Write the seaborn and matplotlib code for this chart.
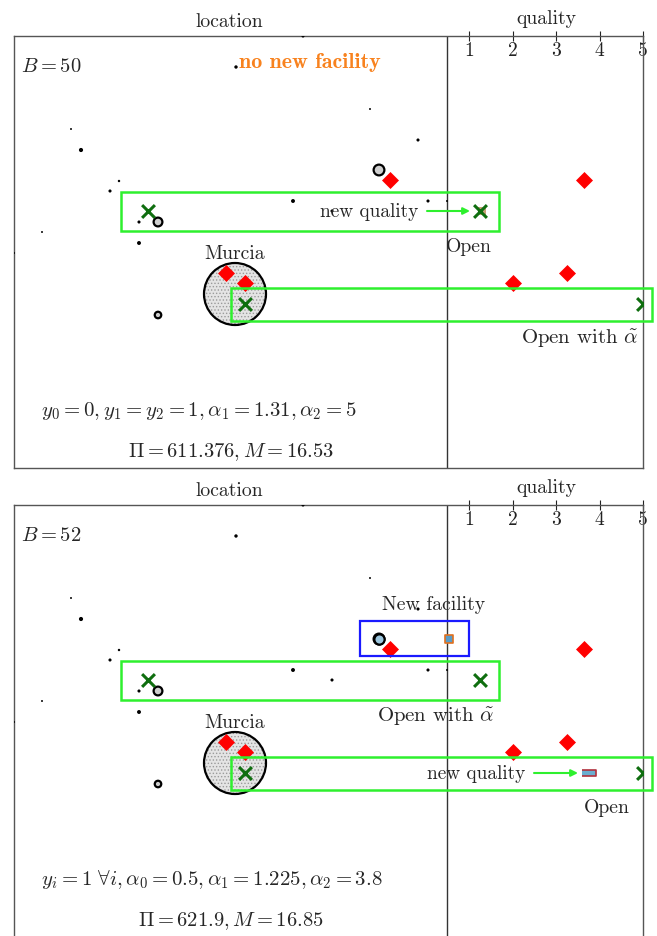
import numpy as np
import seaborn as sns
import matplotlib.pyplot as plt
from matplotlib.patches import Circle, Rectangle

# --- location points (map coords in px, y measured down from the frame top)
dot_x = [303, 236, 71, 81, 119, 110, 293, 139, 42, 370, 418, 428, 447, 139, 14, 332]
dot_y = [0, 31, 93, 114, 145, 155, 165, 186, 196, 73, 104, 165, 165, 207, 217, 175]
dot_s = [5, 6, 2, 9, 3, 5, 8, 5, 2, 2, 5, 5, 2, 8, 2, 5]

# demand points drawn as open circles
circ_x = [379, 158, 158]
circ_y = [134, 186, 279]
circ_s = [60, 40, 22]

# existing facilities: location and quality
fac_x = [390, 226, 245]
fac_y = [144, 237, 247]
fac_q = [3.65, 3.25, 2.0]

# candidate facilities (green crosses): location and old quality
cand_x = [148, 245]
cand_y = [175, 268]
cand_q = [1.25, 5.0]

# Murcia region
murcia_x, murcia_y, murcia_r = 235, 258, 31

quality_ticks = [1, 2, 3, 4, 5]

# per panel values
budget = [50, 52]
param_text = [r'$y_0 = 0, y_1 = y_2 = 1, \alpha_1 = 1.31, \alpha_2 = 5$',
              r'$y_i = 1\ \forall i, \alpha_0 = 0.5, \alpha_1 = 1.225, \alpha_2 = 3.8$']
profit = ['611.376', '621.9']
market = ['16.53', '16.85']
new_q_row = [0, 1]
new_q_val = [1.31, 3.75]
new_fac_q = 0.5


def q_to_px(q):
    return 469 + (np.asarray(q, dtype=float) - 1) * 43.5


def px_to_q(px):
    return 1 + (np.asarray(px, dtype=float) - 469) / 43.5


sns.set_theme(style='white')
plt.rcParams['font.family'] = ['cmr10']
plt.rcParams['mathtext.fontset'] = 'cm'
plt.rcParams['axes.formatter.use_mathtext'] = True
plt.rcParams['hatch.linewidth'] = 0.6

LIME = '#2ef02e'
DGREEN = '#0f6e0f'
FS = 14.2
MFS = 14.8

W, H = 657, 937
fig = plt.figure(figsize=(W / 100, H / 100), dpi=100)

for p, top in enumerate([37, 506]):
    ax = fig.add_axes([14 / W, 1 - (top + 432) / H, 629 / W, 432 / H])
    ax.set_xlim(14, 643)
    ax.set_ylim(432, 0)
    ax.set_xticks([])
    ax.set_yticks([])
    for sp in ax.spines.values():
        sp.set_color('#555555')
        sp.set_linewidth(1.0)
    ax.axvline(q_to_px(new_fac_q), color='#333333', lw=1.0)

    sec = ax.secondary_xaxis('top', functions=(px_to_q, q_to_px))
    sec.set_xticks(quality_ticks)
    sec.set_xticklabels([str(t) for t in quality_ticks])
    sec.tick_params(direction='inout', length=7, width=0.8, pad=-20,
                    labelsize=14, colors='#222222')
    sec.spines['top'].set_visible(False)

    ax.text(229, -15, 'location', ha='center', va='center', fontsize=FS)
    ax.text(546, -18, 'quality', ha='center', va='center', fontsize=FS)

    # Murcia
    ax.add_patch(Circle((murcia_x, murcia_y), murcia_r, facecolor='#e4e4e4',
                        edgecolor='#9a9a9a', hatch='.....', lw=0, zorder=1))
    ax.add_patch(Circle((murcia_x, murcia_y), murcia_r, fill=False,
                        edgecolor='black', lw=1.6, zorder=2))
    ax.text(murcia_x, murcia_y - 41, 'Murcia', ha='center', va='center', fontsize=FS)

    sns.scatterplot(x=dot_x, y=dot_y, s=dot_s, color='black', linewidth=0,
                    ax=ax, legend=False, zorder=3)
    sns.scatterplot(x=circ_x, y=circ_y, s=circ_s, color='#cfcfcf',
                    edgecolor='black', linewidth=1.6, ax=ax, legend=False, zorder=3)

    fx = list(fac_x) + list(q_to_px(fac_q))
    fy = list(fac_y) * 2
    sns.scatterplot(x=fx, y=fy, marker='D', s=75, color='red', linewidth=0,
                    ax=ax, legend=False, zorder=4)

    # new quality marker for a candidate
    r = new_q_row[p]
    if p == 0:
        sns.scatterplot(x=[q_to_px(new_q_val[p])], y=[cand_y[r]], marker='s', s=30,
                        color='#c9a27a', linewidth=0, ax=ax, legend=False, zorder=4)
    else:
        rect_m = [(-1, -0.5), (1, -0.5), (1, 0.5), (-1, 0.5)]
        sns.scatterplot(x=[q_to_px(new_q_val[p])], y=[cand_y[r]], marker=rect_m, s=90,
                        color='#6aaed0', edgecolor='#b0303c', linewidth=1.2,
                        ax=ax, legend=False, zorder=4)

    cx = list(cand_x) + list(q_to_px(cand_q))
    cy = list(cand_y) * 2
    sns.scatterplot(x=cx, y=cy, marker='x', s=85, color=DGREEN, linewidth=2.2,
                    ax=ax, legend=False, zorder=5)

    # green boxes around candidates
    box_left = [121, 231]
    box_right = [499, 652]
    box_half = [19.5, 16.5]
    for k in range(2):
        ax.add_patch(Rectangle((box_left[k], cand_y[k] - box_half[k] + 0.5),
                               box_right[k] - box_left[k], 2 * box_half[k],
                               fill=False, edgecolor=LIME, lw=1.8, zorder=6,
                               clip_on=False))

    # arrow "new quality"
    ay = cand_y[r]
    if p == 0:
        tx, a0, a1 = 418, 427, 470
    else:
        tx, a0, a1 = 525, 534, 578
    ax.text(tx, ay, 'new quality', ha='right', va='center', fontsize=FS - 0.3, zorder=7)
    ax.annotate('', xy=(a1, ay), xytext=(a0, ay),
                arrowprops=dict(arrowstyle='-|>', color=LIME, lw=1.5,
                                mutation_scale=10, shrinkA=0, shrinkB=0), zorder=7)

    if p == 0:
        ax.text(469, 210, 'Open', ha='center', va='center', fontsize=FS)
        ax.text(580, 302, r'Open with $\tilde{\alpha}$', ha='center', va='center',
                fontsize=FS + 0.8)
        ax.text(239, 26, 'no new facility', ha='left', va='center', fontsize=15.8,
                color='#f8821e', family='cmb10')
    else:
        ax.text(436, 211, r'Open with $\tilde{\alpha}$', ha='center', va='center',
                fontsize=FS + 0.8)
        ax.text(607, 302, 'Open', ha='center', va='center', fontsize=FS)
        # new facility
        ax.add_patch(Rectangle((360, 116), 109, 35, fill=False, edgecolor='#1a1aff',
                               lw=1.6, zorder=6))
        ax.text(434, 99, 'New facility', ha='center', va='center', fontsize=FS)
        sns.scatterplot(x=[circ_x[0]], y=[circ_y[0]], s=55, color='#9cc6de',
                        edgecolor='black', linewidth=1.6, ax=ax, legend=False, zorder=5)
        sns.scatterplot(x=[q_to_px(new_fac_q) + 2], y=[circ_y[0]], marker='s', s=35,
                        color='#5a9cc6', edgecolor='#e0701e', linewidth=1.2,
                        ax=ax, legend=False, zorder=5)

    ax.text(21, 30, rf'$B = {budget[p]}$', ha='left', va='center', fontsize=MFS)
    ax.text(41, 374, param_text[p], ha='left', va='center', fontsize=MFS + 0.2)
    ax.text(231, 415, rf'$\Pi = {profit[p]}, M = {market[p]}$', ha='center',
            va='center', fontsize=MFS)

fig.savefig('out.png', dpi=100)
